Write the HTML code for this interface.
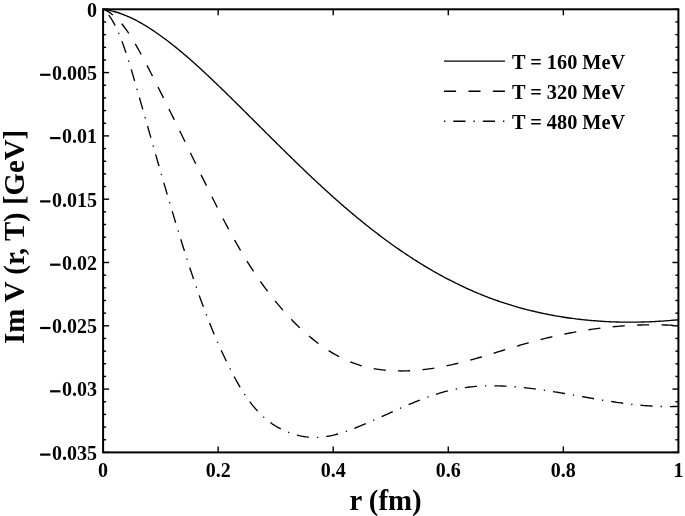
<!DOCTYPE html>
<html><head><meta charset="utf-8"><style>
html,body{margin:0;padding:0;background:#fff;}
svg{display:block;will-change:transform;}
text{font-family:"Liberation Serif",serif;font-weight:bold;fill:#000;}
</style></head><body>
<svg width="685" height="516" viewBox="0 0 685 516">

<g fill="none" stroke="#000" stroke-width="1.35" stroke-linejoin="round">
<path d="M103.3,9.27 L104.98,9.53 L106.66,9.82 L108.32,10.15 L109.97,10.5 L111.62,10.89 L113.25,11.31 L114.88,11.75 L116.49,12.23 L118.1,12.73 L119.7,13.26 L121.29,13.82 L122.87,14.4 L124.44,15.01 L126.01,15.64 L127.56,16.29 L129.11,16.97 L130.65,17.67 L132.18,18.4 L133.7,19.14 L135.21,19.9 L136.72,20.68 L138.22,21.48 L139.71,22.3 L141.19,23.14 L142.67,23.99 L144.14,24.86 L145.6,25.74 L147.06,26.64 L148.5,27.55 L149.94,28.47 L151.38,29.41 L152.8,30.35 L154.23,31.31 L155.64,32.28 L157.05,33.25 L158.45,34.24 L159.84,35.23 L161.23,36.23 L162.62,37.24 L163.99,38.25 L165.37,39.27 L166.73,40.29 L168.09,41.33 L169.45,42.37 L170.8,43.41 L172.14,44.46 L173.48,45.52 L174.82,46.58 L176.15,47.65 L177.47,48.72 L178.79,49.8 L180.11,50.89 L181.42,51.98 L182.72,53.07 L184.03,54.17 L185.32,55.27 L186.62,56.38 L187.91,57.5 L189.19,58.61 L190.47,59.73 L191.75,60.86 L193.03,61.99 L194.3,63.12 L195.57,64.26 L196.83,65.4 L198.09,66.54 L199.35,67.69 L200.61,68.84 L201.86,69.99 L203.11,71.15 L204.36,72.31 L205.6,73.47 L206.84,74.63 L208.08,75.8 L209.32,76.97 L210.56,78.14 L211.79,79.31 L213.02,80.48 L214.25,81.66 L215.48,82.84 L216.71,84.02 L217.93,85.2 L219.16,86.38 L220.38,87.56 L221.6,88.74 L222.82,89.93 L224.04,91.11 L225.26,92.3 L226.47,93.49 L227.69,94.67 L228.9,95.86 L230.12,97.05 L231.33,98.24 L232.54,99.43 L233.75,100.62 L234.96,101.82 L236.17,103.01 L237.38,104.2 L238.59,105.4 L239.79,106.59 L241,107.79 L242.2,108.98 L243.41,110.18 L244.61,111.37 L245.82,112.57 L247.02,113.77 L248.23,114.96 L249.43,116.16 L250.63,117.36 L251.83,118.55 L253.04,119.75 L254.24,120.95 L255.44,122.15 L256.64,123.34 L257.84,124.54 L259.04,125.74 L260.24,126.94 L261.44,128.14 L262.65,129.33 L263.85,130.53 L265.05,131.73 L266.25,132.92 L267.45,134.12 L268.65,135.32 L269.86,136.51 L271.06,137.71 L272.26,138.9 L273.46,140.1 L274.67,141.29 L275.87,142.48 L277.08,143.68 L278.28,144.87 L279.49,146.06 L280.69,147.25 L281.9,148.44 L283.11,149.63 L284.32,150.82 L285.53,152.01 L286.74,153.2 L287.95,154.39 L289.16,155.57 L290.37,156.76 L291.58,157.94 L292.8,159.13 L294.01,160.31 L295.23,161.49 L296.45,162.67 L297.67,163.85 L298.89,165.03 L300.11,166.2 L301.33,167.38 L302.55,168.55 L303.78,169.72 L305.01,170.9 L306.23,172.07 L307.46,173.24 L308.69,174.4 L309.93,175.57 L311.16,176.73 L312.4,177.9 L313.63,179.06 L314.87,180.22 L316.11,181.38 L317.35,182.54 L318.6,183.69 L319.84,184.84 L321.09,186 L322.34,187.15 L323.59,188.29 L324.84,189.44 L326.1,190.59 L327.36,191.73 L328.62,192.87 L329.88,194.01 L331.14,195.14 L332.41,196.28 L333.68,197.41 L334.95,198.54 L336.22,199.67 L337.49,200.8 L338.77,201.92 L340.05,203.04 L341.33,204.16 L342.62,205.28 L343.9,206.4 L345.19,207.51 L346.49,208.62 L347.78,209.72 L349.08,210.83 L350.38,211.93 L351.68,213.03 L352.98,214.13 L354.29,215.22 L355.6,216.31 L356.91,217.4 L358.22,218.48 L359.54,219.57 L360.86,220.64 L362.18,221.72 L363.51,222.79 L364.84,223.86 L366.17,224.93 L367.5,225.99 L368.83,227.05 L370.17,228.11 L371.51,229.16 L372.86,230.21 L374.2,231.25 L375.55,232.29 L376.9,233.33 L378.26,234.36 L379.62,235.39 L380.98,236.42 L382.34,237.44 L383.71,238.46 L385.07,239.48 L386.45,240.49 L387.82,241.49 L389.2,242.5 L390.58,243.49 L391.96,244.49 L393.35,245.48 L394.74,246.46 L396.13,247.44 L397.53,248.42 L398.92,249.39 L400.33,250.36 L401.73,251.32 L403.14,252.28 L404.55,253.23 L405.96,254.18 L407.38,255.12 L408.8,256.06 L410.22,257 L411.65,257.93 L413.08,258.85 L414.51,259.77 L415.94,260.68 L417.38,261.59 L418.83,262.49 L420.27,263.39 L421.72,264.28 L423.17,265.17 L424.63,266.05 L426.08,266.93 L427.55,267.8 L429.01,268.67 L430.48,269.53 L431.95,270.38 L433.42,271.23 L434.9,272.07 L436.38,272.91 L437.87,273.74 L439.36,274.56 L440.85,275.38 L442.34,276.19 L443.84,277 L445.34,277.8 L446.85,278.6 L448.35,279.38 L449.86,280.16 L451.38,280.94 L452.89,281.71 L454.41,282.47 L455.94,283.23 L457.46,283.98 L458.99,284.72 L460.52,285.46 L462.06,286.19 L463.6,286.91 L465.14,287.62 L466.68,288.33 L468.23,289.04 L469.78,289.73 L471.33,290.42 L472.89,291.1 L474.45,291.77 L476.01,292.44 L477.58,293.1 L479.14,293.75 L480.71,294.4 L482.29,295.04 L483.86,295.67 L485.44,296.29 L487.02,296.91 L488.61,297.51 L490.2,298.11 L491.79,298.71 L493.38,299.29 L494.98,299.87 L496.57,300.44 L498.18,301 L499.78,301.55 L501.39,302.1 L502.99,302.63 L504.61,303.16 L506.22,303.69 L507.84,304.2 L509.46,304.71 L511.08,305.21 L512.7,305.7 L514.33,306.18 L515.96,306.66 L517.59,307.13 L519.22,307.59 L520.86,308.04 L522.49,308.49 L524.13,308.92 L525.77,309.35 L527.42,309.78 L529.06,310.19 L530.71,310.6 L532.36,311 L534.01,311.39 L535.67,311.78 L537.32,312.16 L538.98,312.53 L540.64,312.89 L542.3,313.25 L543.96,313.6 L545.63,313.94 L547.29,314.28 L548.96,314.6 L550.63,314.92 L552.3,315.24 L553.97,315.54 L555.65,315.84 L557.32,316.13 L559,316.42 L560.67,316.69 L562.35,316.96 L564.03,317.23 L565.72,317.48 L567.4,317.73 L569.08,317.97 L570.77,318.21 L572.46,318.43 L574.14,318.66 L575.83,318.87 L577.52,319.08 L579.21,319.28 L580.91,319.47 L582.6,319.66 L584.29,319.84 L585.99,320.01 L587.68,320.18 L589.38,320.34 L591.08,320.49 L592.77,320.63 L594.47,320.77 L596.17,320.91 L597.87,321.03 L599.57,321.15 L601.27,321.26 L602.97,321.37 L604.67,321.47 L606.38,321.56 L608.08,321.65 L609.78,321.73 L611.48,321.8 L613.19,321.87 L614.89,321.93 L616.6,321.98 L618.3,322.03 L620,322.07 L621.71,322.1 L623.41,322.13 L625.12,322.15 L626.82,322.17 L628.53,322.18 L630.23,322.18 L631.94,322.18 L633.64,322.17 L635.35,322.15 L637.05,322.13 L638.76,322.1 L640.46,322.07 L642.16,322.03 L643.87,321.98 L645.57,321.93 L647.27,321.87 L648.97,321.81 L650.67,321.74 L652.38,321.66 L654.08,321.58 L655.78,321.49 L657.48,321.39 L659.17,321.29 L660.87,321.18 L662.57,321.07 L664.27,320.95 L665.96,320.83 L667.66,320.7 L669.35,320.56 L671.05,320.42 L672.74,320.27 L674.43,320.12 L676.12,319.96 L677.81,319.8"/>
<path d="M103.43,9.07 L105.16,9.91 L106.84,10.82 L108.46,11.8 L110.05,12.85 L111.59,13.97 L113.08,15.14 L114.53,16.37 L115.94,17.66 L117.32,18.99 L118.66,20.36 L119.96,21.78 L121.23,23.23 L122.46,24.72 L123.67,26.24 L124.85,27.78 L126,29.35 L127.13,30.95 L128.23,32.56 L129.32,34.19 L130.38,35.84 L131.42,37.5 L132.45,39.18 L133.46,40.86 L134.46,42.55 L135.44,44.24 L136.42,45.93 L137.38,47.63 L138.34,49.33 L139.29,51.02 L140.23,52.72 L141.16,54.43 L142.09,56.13 L143.01,57.83 L143.92,59.54 L144.83,61.24 L145.73,62.95 L146.62,64.66 L147.52,66.37 L148.4,68.08 L149.29,69.8 L150.17,71.51 L151.05,73.23 L151.93,74.94 L152.8,76.66 L153.67,78.38 L154.55,80.1 L155.42,81.82 L156.29,83.54 L157.15,85.27 L158.02,86.99 L158.89,88.71 L159.75,90.44 L160.62,92.17 L161.48,93.89 L162.34,95.62 L163.21,97.35 L164.07,99.08 L164.93,100.81 L165.78,102.54 L166.64,104.28 L167.5,106.01 L168.36,107.74 L169.21,109.48 L170.07,111.21 L170.92,112.95 L171.78,114.69 L172.63,116.42 L173.48,118.16 L174.33,119.9 L175.19,121.64 L176.04,123.38 L176.89,125.12 L177.74,126.86 L178.59,128.6 L179.44,130.34 L180.29,132.08 L181.14,133.82 L181.99,135.56 L182.84,137.31 L183.69,139.05 L184.54,140.79 L185.38,142.54 L186.23,144.28 L187.08,146.02 L187.93,147.77 L188.78,149.51 L189.63,151.25 L190.48,153 L191.33,154.74 L192.17,156.48 L193.02,158.23 L193.87,159.97 L194.72,161.72 L195.57,163.46 L196.42,165.2 L197.27,166.95 L198.13,168.69 L198.98,170.44 L199.83,172.18 L200.68,173.92 L201.53,175.67 L202.39,177.41 L203.24,179.15 L204.1,180.89 L204.95,182.63 L205.81,184.38 L206.67,186.12 L207.52,187.86 L208.38,189.6 L209.24,191.34 L210.1,193.08 L210.96,194.81 L211.83,196.55 L212.69,198.29 L213.56,200.02 L214.43,201.76 L215.3,203.49 L216.17,205.22 L217.04,206.95 L217.92,208.68 L218.8,210.41 L219.68,212.14 L220.57,213.86 L221.45,215.58 L222.35,217.3 L223.24,219.02 L224.14,220.74 L225.04,222.45 L225.94,224.17 L226.85,225.88 L227.76,227.59 L228.68,229.29 L229.6,231 L230.52,232.7 L231.45,234.39 L232.38,236.09 L233.32,237.78 L234.26,239.47 L235.21,241.16 L236.16,242.84 L237.12,244.52 L238.08,246.2 L239.05,247.87 L240.02,249.54 L241,251.21 L241.98,252.87 L242.98,254.53 L243.97,256.19 L244.98,257.84 L245.99,259.48 L247,261.13 L248.02,262.77 L249.05,264.4 L250.09,266.03 L251.13,267.66 L252.18,269.28 L253.24,270.9 L254.31,272.51 L255.38,274.12 L256.46,275.73 L257.55,277.33 L258.64,278.92 L259.75,280.51 L260.86,282.09 L261.98,283.67 L263.11,285.25 L264.25,286.81 L265.39,288.38 L266.55,289.93 L267.71,291.48 L268.88,293.03 L270.07,294.57 L271.26,296.1 L272.46,297.63 L273.67,299.15 L274.89,300.67 L276.12,302.18 L277.36,303.68 L278.62,305.18 L279.88,306.67 L281.15,308.16 L282.43,309.63 L283.73,311.1 L285.03,312.57 L286.34,314.02 L287.67,315.47 L289.01,316.91 L290.35,318.34 L291.71,319.76 L293.08,321.17 L294.46,322.57 L295.84,323.96 L297.24,325.34 L298.65,326.71 L300.08,328.06 L301.51,329.4 L302.95,330.73 L304.4,332.04 L305.86,333.34 L307.34,334.63 L308.82,335.9 L310.32,337.15 L311.82,338.39 L313.34,339.61 L314.86,340.82 L316.4,342.01 L317.94,343.18 L319.5,344.33 L321.07,345.46 L322.65,346.58 L324.23,347.67 L325.83,348.74 L327.44,349.8 L329.06,350.83 L330.69,351.84 L332.33,352.83 L333.98,353.8 L335.64,354.74 L337.31,355.66 L338.99,356.56 L340.68,357.43 L342.38,358.27 L344.09,359.1 L345.81,359.89 L347.55,360.66 L349.29,361.41 L351.04,362.12 L352.8,362.81 L354.57,363.47 L356.36,364.11 L358.15,364.71 L359.95,365.28 L361.76,365.83 L363.59,366.34 L365.42,366.83 L367.26,367.28 L369.11,367.71 L370.97,368.11 L372.84,368.48 L374.71,368.82 L376.59,369.13 L378.48,369.42 L380.38,369.68 L382.28,369.92 L384.19,370.13 L386.11,370.32 L388.03,370.48 L389.96,370.61 L391.89,370.73 L393.82,370.82 L395.76,370.88 L397.7,370.93 L399.65,370.95 L401.6,370.95 L403.55,370.93 L405.51,370.88 L407.46,370.82 L409.42,370.74 L411.38,370.63 L413.34,370.51 L415.3,370.37 L417.26,370.21 L419.22,370.03 L421.18,369.83 L423.14,369.62 L425.1,369.39 L427.06,369.14 L429.01,368.88 L430.97,368.6 L432.92,368.31 L434.87,368 L436.81,367.68 L438.75,367.34 L440.69,366.99 L442.62,366.63 L444.55,366.25 L446.48,365.86 L448.39,365.46 L450.31,365.05 L452.22,364.63 L454.12,364.2 L456.02,363.75 L457.91,363.3 L459.8,362.83 L461.69,362.36 L463.57,361.88 L465.45,361.39 L467.33,360.9 L469.2,360.39 L471.07,359.88 L472.93,359.36 L474.79,358.84 L476.65,358.31 L478.51,357.77 L480.37,357.23 L482.22,356.69 L484.07,356.14 L485.92,355.59 L487.77,355.03 L489.61,354.48 L491.46,353.92 L493.3,353.35 L495.15,352.79 L496.99,352.22 L498.83,351.66 L500.67,351.09 L502.52,350.52 L504.36,349.96 L506.2,349.39 L508.04,348.83 L509.89,348.27 L511.73,347.71 L513.58,347.15 L515.42,346.59 L517.27,346.04 L519.12,345.5 L520.97,344.95 L522.82,344.41 L524.68,343.88 L526.53,343.35 L528.39,342.83 L530.25,342.31 L532.12,341.8 L533.99,341.3 L535.86,340.8 L537.73,340.31 L539.6,339.83 L541.48,339.35 L543.36,338.88 L545.24,338.41 L547.12,337.96 L549.01,337.51 L550.9,337.06 L552.79,336.63 L554.68,336.2 L556.57,335.78 L558.47,335.36 L560.37,334.95 L562.27,334.55 L564.17,334.16 L566.07,333.77 L567.98,333.39 L569.88,333.02 L571.79,332.66 L573.7,332.3 L575.61,331.95 L577.53,331.61 L579.44,331.28 L581.36,330.95 L583.27,330.63 L585.19,330.32 L587.11,330.02 L589.03,329.73 L590.95,329.44 L592.87,329.16 L594.8,328.89 L596.72,328.63 L598.65,328.38 L600.57,328.13 L602.5,327.89 L604.43,327.66 L606.36,327.44 L608.29,327.23 L610.22,327.03 L612.15,326.83 L614.08,326.64 L616.01,326.47 L617.94,326.3 L619.87,326.14 L621.8,325.98 L623.74,325.84 L625.67,325.71 L627.6,325.58 L629.54,325.46 L631.47,325.36 L633.4,325.26 L635.34,325.17 L637.27,325.09 L639.2,325.02 L641.14,324.96 L643.07,324.91 L645,324.86 L646.93,324.83 L648.87,324.81 L650.8,324.79 L652.73,324.79 L654.66,324.79 L656.59,324.81 L658.52,324.83 L660.45,324.87 L662.37,324.91 L664.3,324.97 L666.23,325.03 L668.15,325.11 L670.08,325.19 L672,325.28 L673.92,325.39 L675.85,325.5 L677.77,325.63" stroke-dasharray="12.1 12.33" stroke-dashoffset="0.93"/>
<path d="M103.5,9.05 L105.01,10.63 L106.44,12.27 L107.81,13.95 L109.12,15.67 L110.36,17.44 L111.55,19.25 L112.68,21.09 L113.76,22.96 L114.8,24.87 L115.79,26.8 L116.74,28.76 L117.65,30.74 L118.53,32.74 L119.38,34.76 L120.21,36.78 L121.01,38.82 L121.79,40.87 L122.55,42.92 L123.3,44.98 L124.03,47.04 L124.75,49.1 L125.46,51.17 L126.15,53.24 L126.84,55.31 L127.51,57.39 L128.17,59.47 L128.83,61.55 L129.48,63.64 L130.12,65.72 L130.75,67.81 L131.38,69.9 L132,71.99 L132.62,74.08 L133.23,76.18 L133.84,78.28 L134.45,80.37 L135.06,82.47 L135.67,84.57 L136.27,86.67 L136.88,88.77 L137.48,90.87 L138.09,92.97 L138.69,95.07 L139.3,97.17 L139.9,99.27 L140.5,101.37 L141.1,103.48 L141.71,105.58 L142.31,107.68 L142.91,109.79 L143.51,111.89 L144.11,114 L144.71,116.1 L145.31,118.21 L145.91,120.31 L146.52,122.42 L147.12,124.53 L147.72,126.63 L148.32,128.74 L148.92,130.84 L149.52,132.95 L150.12,135.06 L150.72,137.16 L151.32,139.27 L151.92,141.38 L152.52,143.48 L153.12,145.59 L153.73,147.7 L154.33,149.8 L154.93,151.91 L155.53,154.02 L156.14,156.12 L156.74,158.23 L157.34,160.33 L157.95,162.44 L158.55,164.54 L159.16,166.65 L159.77,168.75 L160.37,170.86 L160.98,172.96 L161.59,175.07 L162.2,177.17 L162.81,179.27 L163.42,181.37 L164.03,183.48 L164.64,185.58 L165.26,187.68 L165.87,189.78 L166.49,191.88 L167.1,193.98 L167.72,196.07 L168.34,198.17 L168.96,200.27 L169.58,202.37 L170.2,204.46 L170.82,206.56 L171.45,208.65 L172.07,210.74 L172.7,212.84 L173.33,214.93 L173.96,217.02 L174.59,219.11 L175.22,221.2 L175.85,223.29 L176.49,225.37 L177.12,227.46 L177.76,229.54 L178.4,231.63 L179.04,233.71 L179.69,235.79 L180.33,237.87 L180.98,239.95 L181.62,242.03 L182.27,244.11 L182.92,246.18 L183.58,248.26 L184.23,250.33 L184.89,252.41 L185.55,254.48 L186.21,256.55 L186.87,258.62 L187.54,260.68 L188.2,262.75 L188.87,264.81 L189.54,266.88 L190.22,268.94 L190.9,271 L191.58,273.06 L192.26,275.11 L192.95,277.17 L193.64,279.22 L194.33,281.28 L195.03,283.33 L195.73,285.38 L196.43,287.43 L197.14,289.48 L197.86,291.52 L198.58,293.57 L199.3,295.61 L200.03,297.66 L200.76,299.7 L201.5,301.74 L202.24,303.78 L202.99,305.81 L203.75,307.85 L204.51,309.88 L205.28,311.92 L206.05,313.95 L206.83,315.98 L207.61,318.01 L208.41,320.03 L209.21,322.06 L210.01,324.09 L210.83,326.11 L211.65,328.13 L212.48,330.15 L213.31,332.17 L214.16,334.19 L215.01,336.21 L215.87,338.22 L216.74,340.24 L217.62,342.25 L218.5,344.26 L219.4,346.27 L220.3,348.28 L221.21,350.29 L222.13,352.3 L223.06,354.3 L224.01,356.31 L224.96,358.31 L225.92,360.31 L226.89,362.31 L227.87,364.31 L228.86,366.3 L229.86,368.3 L230.87,370.29 L231.9,372.29 L232.93,374.27 L233.98,376.26 L235.04,378.23 L236.12,380.2 L237.22,382.16 L238.33,384.1 L239.45,386.04 L240.6,387.96 L241.76,389.86 L242.94,391.75 L244.15,393.62 L245.37,395.47 L246.62,397.29 L247.89,399.1 L249.18,400.88 L250.5,402.63 L251.85,404.36 L253.21,406.06 L254.61,407.73 L256.04,409.37 L257.49,410.97 L258.97,412.54 L260.49,414.08 L262.03,415.57 L263.61,417.03 L265.22,418.45 L266.86,419.83 L268.54,421.16 L270.25,422.45 L272,423.69 L273.78,424.89 L275.6,426.04 L277.45,427.14 L279.33,428.19 L281.24,429.18 L283.18,430.13 L285.14,431.02 L287.13,431.86 L289.14,432.65 L291.17,433.37 L293.21,434.05 L295.28,434.66 L297.36,435.22 L299.45,435.71 L301.55,436.15 L303.67,436.52 L305.79,436.84 L307.92,437.09 L310.06,437.27 L312.19,437.39 L314.33,437.44 L316.47,437.43 L318.6,437.35 L320.74,437.2 L322.87,436.99 L325,436.72 L327.12,436.39 L329.24,436.01 L331.36,435.58 L333.47,435.1 L335.58,434.57 L337.69,434 L339.79,433.39 L341.89,432.75 L343.98,432.07 L346.07,431.37 L348.15,430.63 L350.23,429.88 L352.31,429.1 L354.38,428.3 L356.44,427.5 L358.5,426.67 L360.56,425.84 L362.61,424.99 L364.66,424.14 L366.7,423.27 L368.74,422.4 L370.77,421.52 L372.81,420.63 L374.84,419.73 L376.86,418.84 L378.89,417.93 L380.91,417.03 L382.93,416.12 L384.95,415.21 L386.96,414.3 L388.98,413.38 L390.99,412.47 L393.01,411.57 L395.02,410.66 L397.03,409.76 L399.05,408.86 L401.06,407.97 L403.07,407.08 L405.09,406.2 L407.1,405.33 L409.12,404.47 L411.13,403.61 L413.15,402.77 L415.17,401.94 L417.2,401.12 L419.22,400.31 L421.25,399.52 L423.28,398.74 L425.31,397.98 L427.35,397.23 L429.39,396.5 L431.44,395.79 L433.48,395.1 L435.54,394.43 L437.6,393.78 L439.66,393.15 L441.72,392.54 L443.8,391.96 L445.88,391.4 L447.96,390.87 L450.05,390.36 L452.15,389.88 L454.25,389.42 L456.36,389 L458.48,388.6 L460.6,388.24 L462.73,387.9 L464.86,387.58 L467.01,387.3 L469.15,387.04 L471.31,386.81 L473.47,386.61 L475.63,386.42 L477.8,386.27 L479.97,386.13 L482.14,386.02 L484.32,385.94 L486.5,385.87 L488.69,385.83 L490.88,385.81 L493.07,385.81 L495.26,385.82 L497.46,385.86 L499.65,385.92 L501.85,385.99 L504.05,386.08 L506.25,386.19 L508.45,386.32 L510.65,386.46 L512.85,386.62 L515.05,386.79 L517.25,386.98 L519.45,387.18 L521.65,387.39 L523.85,387.62 L526.04,387.85 L528.23,388.1 L530.42,388.37 L532.61,388.64 L534.8,388.92 L536.98,389.21 L539.16,389.51 L541.33,389.81 L543.51,390.13 L545.68,390.45 L547.84,390.78 L550.01,391.12 L552.17,391.46 L554.33,391.81 L556.49,392.16 L558.64,392.52 L560.8,392.88 L562.95,393.25 L565.1,393.62 L567.25,393.99 L569.4,394.37 L571.54,394.74 L573.69,395.12 L575.83,395.5 L577.97,395.88 L580.12,396.26 L582.26,396.64 L584.4,397.02 L586.54,397.4 L588.68,397.78 L590.82,398.16 L592.96,398.53 L595.1,398.9 L597.24,399.27 L599.38,399.63 L601.52,399.99 L603.67,400.34 L605.81,400.69 L607.95,401.03 L610.1,401.37 L612.25,401.7 L614.39,402.03 L616.54,402.34 L618.69,402.65 L620.84,402.95 L623,403.24 L625.15,403.53 L627.31,403.8 L629.47,404.06 L631.64,404.32 L633.8,404.56 L635.97,404.79 L638.14,405 L640.31,405.21 L642.49,405.4 L644.67,405.58 L646.85,405.75 L649.04,405.9 L651.23,406.04 L653.42,406.16 L655.62,406.27 L657.82,406.36 L660.02,406.44 L662.23,406.49 L664.44,406.54 L666.66,406.56 L668.88,406.56 L671.11,406.55 L673.34,406.52 L675.58,406.47 L677.82,406.39" stroke-dasharray="1.3 8.01 12.2 8.0" stroke-dashoffset="1.35"/>
</g>
<g stroke="#000" stroke-width="1.4">
<line x1="103.1" y1="9.3" x2="109.1" y2="9.3"/>
<line x1="678.4" y1="9.3" x2="672.4" y2="9.3"/>
<line x1="103.1" y1="21.96" x2="106.1" y2="21.96"/>
<line x1="678.4" y1="21.96" x2="675.4" y2="21.96"/>
<line x1="103.1" y1="34.62" x2="106.1" y2="34.62"/>
<line x1="678.4" y1="34.62" x2="675.4" y2="34.62"/>
<line x1="103.1" y1="47.28" x2="106.1" y2="47.28"/>
<line x1="678.4" y1="47.28" x2="675.4" y2="47.28"/>
<line x1="103.1" y1="59.94" x2="106.1" y2="59.94"/>
<line x1="678.4" y1="59.94" x2="675.4" y2="59.94"/>
<line x1="103.1" y1="72.6" x2="109.1" y2="72.6"/>
<line x1="678.4" y1="72.6" x2="672.4" y2="72.6"/>
<line x1="103.1" y1="85.26" x2="106.1" y2="85.26"/>
<line x1="678.4" y1="85.26" x2="675.4" y2="85.26"/>
<line x1="103.1" y1="97.92" x2="106.1" y2="97.92"/>
<line x1="678.4" y1="97.92" x2="675.4" y2="97.92"/>
<line x1="103.1" y1="110.58" x2="106.1" y2="110.58"/>
<line x1="678.4" y1="110.58" x2="675.4" y2="110.58"/>
<line x1="103.1" y1="123.24" x2="106.1" y2="123.24"/>
<line x1="678.4" y1="123.24" x2="675.4" y2="123.24"/>
<line x1="103.1" y1="135.9" x2="109.1" y2="135.9"/>
<line x1="678.4" y1="135.9" x2="672.4" y2="135.9"/>
<line x1="103.1" y1="148.56" x2="106.1" y2="148.56"/>
<line x1="678.4" y1="148.56" x2="675.4" y2="148.56"/>
<line x1="103.1" y1="161.22" x2="106.1" y2="161.22"/>
<line x1="678.4" y1="161.22" x2="675.4" y2="161.22"/>
<line x1="103.1" y1="173.88" x2="106.1" y2="173.88"/>
<line x1="678.4" y1="173.88" x2="675.4" y2="173.88"/>
<line x1="103.1" y1="186.54" x2="106.1" y2="186.54"/>
<line x1="678.4" y1="186.54" x2="675.4" y2="186.54"/>
<line x1="103.1" y1="199.2" x2="109.1" y2="199.2"/>
<line x1="678.4" y1="199.2" x2="672.4" y2="199.2"/>
<line x1="103.1" y1="211.86" x2="106.1" y2="211.86"/>
<line x1="678.4" y1="211.86" x2="675.4" y2="211.86"/>
<line x1="103.1" y1="224.52" x2="106.1" y2="224.52"/>
<line x1="678.4" y1="224.52" x2="675.4" y2="224.52"/>
<line x1="103.1" y1="237.18" x2="106.1" y2="237.18"/>
<line x1="678.4" y1="237.18" x2="675.4" y2="237.18"/>
<line x1="103.1" y1="249.84" x2="106.1" y2="249.84"/>
<line x1="678.4" y1="249.84" x2="675.4" y2="249.84"/>
<line x1="103.1" y1="262.5" x2="109.1" y2="262.5"/>
<line x1="678.4" y1="262.5" x2="672.4" y2="262.5"/>
<line x1="103.1" y1="275.16" x2="106.1" y2="275.16"/>
<line x1="678.4" y1="275.16" x2="675.4" y2="275.16"/>
<line x1="103.1" y1="287.82" x2="106.1" y2="287.82"/>
<line x1="678.4" y1="287.82" x2="675.4" y2="287.82"/>
<line x1="103.1" y1="300.48" x2="106.1" y2="300.48"/>
<line x1="678.4" y1="300.48" x2="675.4" y2="300.48"/>
<line x1="103.1" y1="313.14" x2="106.1" y2="313.14"/>
<line x1="678.4" y1="313.14" x2="675.4" y2="313.14"/>
<line x1="103.1" y1="325.8" x2="109.1" y2="325.8"/>
<line x1="678.4" y1="325.8" x2="672.4" y2="325.8"/>
<line x1="103.1" y1="338.46" x2="106.1" y2="338.46"/>
<line x1="678.4" y1="338.46" x2="675.4" y2="338.46"/>
<line x1="103.1" y1="351.12" x2="106.1" y2="351.12"/>
<line x1="678.4" y1="351.12" x2="675.4" y2="351.12"/>
<line x1="103.1" y1="363.78" x2="106.1" y2="363.78"/>
<line x1="678.4" y1="363.78" x2="675.4" y2="363.78"/>
<line x1="103.1" y1="376.44" x2="106.1" y2="376.44"/>
<line x1="678.4" y1="376.44" x2="675.4" y2="376.44"/>
<line x1="103.1" y1="389.1" x2="109.1" y2="389.1"/>
<line x1="678.4" y1="389.1" x2="672.4" y2="389.1"/>
<line x1="103.1" y1="401.76" x2="106.1" y2="401.76"/>
<line x1="678.4" y1="401.76" x2="675.4" y2="401.76"/>
<line x1="103.1" y1="414.42" x2="106.1" y2="414.42"/>
<line x1="678.4" y1="414.42" x2="675.4" y2="414.42"/>
<line x1="103.1" y1="427.08" x2="106.1" y2="427.08"/>
<line x1="678.4" y1="427.08" x2="675.4" y2="427.08"/>
<line x1="103.1" y1="439.74" x2="106.1" y2="439.74"/>
<line x1="678.4" y1="439.74" x2="675.4" y2="439.74"/>
<line x1="103.1" y1="452.4" x2="109.1" y2="452.4"/>
<line x1="678.4" y1="452.4" x2="672.4" y2="452.4"/>
<line x1="218.16" y1="452.4" x2="218.16" y2="446.4"/>
<line x1="218.16" y1="9.3" x2="218.16" y2="15.3"/>
<line x1="333.22" y1="452.4" x2="333.22" y2="446.4"/>
<line x1="333.22" y1="9.3" x2="333.22" y2="15.3"/>
<line x1="448.28" y1="452.4" x2="448.28" y2="446.4"/>
<line x1="448.28" y1="9.3" x2="448.28" y2="15.3"/>
<line x1="563.34" y1="452.4" x2="563.34" y2="446.4"/>
<line x1="563.34" y1="9.3" x2="563.34" y2="15.3"/>
</g>
<rect x="103.1" y="9.3" width="575.3" height="443.1" fill="none" stroke="#000" stroke-width="2"/>
<g font-size="20" letter-spacing="0">
<text x="97" y="16.65" text-anchor="end">0</text>
<text x="97" y="79.95" text-anchor="end">0.005</text>
<text x="97" y="143.25" text-anchor="end">0.01</text>
<text x="97" y="206.55" text-anchor="end">0.015</text>
<text x="97" y="269.85" text-anchor="end">0.02</text>
<text x="97" y="333.15" text-anchor="end">0.025</text>
<text x="97" y="396.45" text-anchor="end">0.03</text>
<text x="97" y="459.75" text-anchor="end">0.035</text>
<rect x="40.1" y="73.7" width="10.4" height="2.2"/>
<rect x="50.1" y="137" width="10.4" height="2.2"/>
<rect x="40.1" y="200.3" width="10.4" height="2.2"/>
<rect x="50.1" y="263.6" width="10.4" height="2.2"/>
<rect x="40.1" y="326.9" width="10.4" height="2.2"/>
<rect x="50.1" y="390.2" width="10.4" height="2.2"/>
<rect x="40.1" y="453.5" width="10.4" height="2.2"/>
<text x="103.1" y="476.5" text-anchor="middle">0</text>
<text x="218.16" y="476.5" text-anchor="middle">0.2</text>
<text x="333.22" y="476.5" text-anchor="middle">0.4</text>
<text x="448.28" y="476.5" text-anchor="middle">0.6</text>
<text x="563.34" y="476.5" text-anchor="middle">0.8</text>
<text x="678.4" y="476.5" text-anchor="middle">1</text>
</g>
<g fill="none" stroke="#000" stroke-width="1.35">
<line x1="444" y1="61.1" x2="505" y2="61.1"/>
<line x1="444" y1="91.2" x2="505" y2="91.2" stroke-dasharray="12.1 12.33"/>
<line x1="444" y1="121.2" x2="505" y2="121.2" stroke-dasharray="1.3 8.01 12.2 8.0"/>
</g>
<g font-size="20.3" letter-spacing="0">
<text x="512" y="68.7">T = 160 MeV</text>
<text x="512" y="98.5">T = 320 MeV</text>
<text x="512" y="128.9">T = 480 MeV</text>
</g>
<text x="385.5" y="509.6" font-size="28.8" letter-spacing="0" text-anchor="middle">r (fm)</text>
<text transform="translate(23.5,237) rotate(-90)" font-size="28.8" letter-spacing="0" text-anchor="middle">Im V (r, T) [GeV]</text>
</svg>
</body></html>
